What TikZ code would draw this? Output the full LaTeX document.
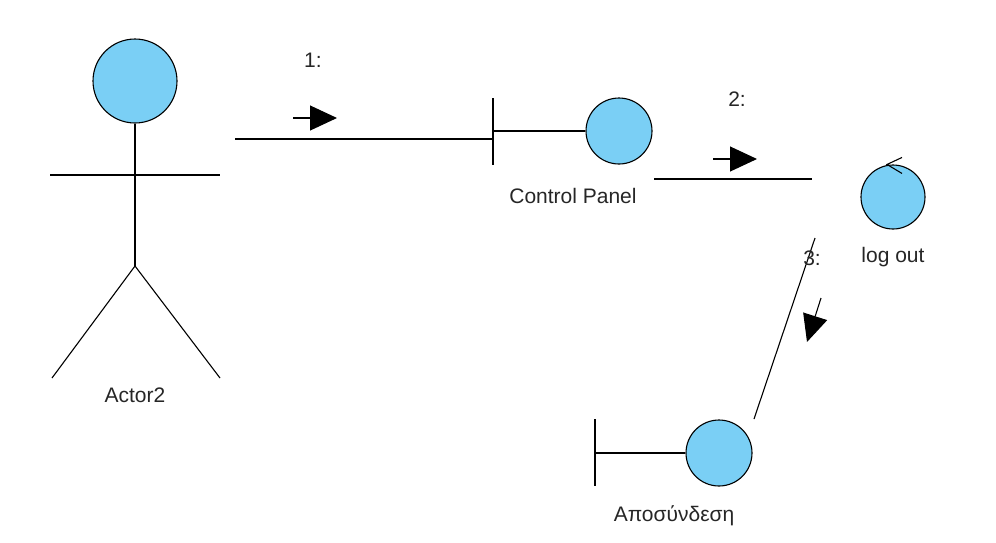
\documentclass[tikz,border=0pt]{standalone}
\usepackage{fontspec}
\setmainfont{Liberation Sans}
\usetikzlibrary{arrows.meta}
\definecolor{objblue}{RGB}{122,207,245}
\tikzset{
  obj/.style={circle,draw,fill=objblue,line width=1.1pt,inner sep=0pt,minimum size=#1},
  lbl/.style={anchor=base,font=\fontsize{21}{25}\selectfont,text=black!85},
  link/.style={line width=1.1pt},
  msg/.style={line width=1.1pt,-{Triangle[length=27pt,width=25pt]}}
}

\begin{document}
\begin{tikzpicture}[x=1pt,y=-1pt]
  \useasboundingbox (0,0) rectangle (996,542);
  % actor
  \node[obj=84pt] (head) at (135,81) {};
  \coordinate (hip) at (135,266);
  \coordinate (lhand) at (50,175);
  \coordinate (rhand) at (220,175);
  \coordinate (lfoot) at (52,378);
  \coordinate (rfoot) at (220,378);
  \draw[link] (head.south) -- (hip);
  \draw[link] (lhand) -- (rhand);
  \draw[link] (lfoot) -- (hip) -- (rfoot);
  \node[lbl] (actorlbl) at (135,402) {Actor2};
  % boundary: Control Panel
  \node[obj=66pt] (cpanel) at (619,131) {};
  \coordinate (cpbar) at (493,131);
  \draw[link] (cpanel.west) -- (cpbar);
  \draw[link] ([yshift=33pt]cpbar) -- ([yshift=-34pt]cpbar);
  \node[lbl] (cplbl) at (573,203) {Control Panel};
  % control: log out
  \node[obj=64pt] (logout) at (893,197) {};
  \coordinate (lotip) at ([xshift=-6pt]logout.north);
  \draw[link] ([shift={(15,-7)}]lotip) -- (lotip) -- ([shift={(15,9)}]lotip);
  \node[lbl] (lolbl) at (893,262) {log out};
  % boundary: Αποσύνδεση
  \node[obj=66pt] (logoff) at (719,453) {};
  \coordinate (lfbar) at (595,453);
  \draw[link] (logoff.west) -- (lfbar);
  \draw[link] ([yshift=34pt]lfbar) -- ([yshift=-33pt]lfbar);
  \node[lbl] (lflbl) at (674,521) {Αποσύνδεση};
  % links
  \coordinate (l1a) at (235,139);
  \coordinate (l1b) at (493,139);
  \coordinate (l2a) at (654,179);
  \coordinate (l2b) at (812,179);
  \coordinate (l3a) at (815,238);
  \coordinate (l3b) at (754,419);
  \draw[link] (l1a) -- (l1b);
  \draw[link] (l2a) -- (l2b);
  \draw[link] (l3a) -- (l3b);
  % messages
  \coordinate (m1a) at (293,118);
  \coordinate (m1b) at (337,118);
  \coordinate (m2a) at (713,159);
  \coordinate (m2b) at (757,159);
  \coordinate (m3a) at (821,298);
  \coordinate (m3b) at (807,342);
  \draw[msg] (m1a) -- (m1b);
  \draw[msg] (m2a) -- (m2b);
  \draw[msg] (m3a) -- (m3b);
  \node[lbl] (m1lbl) at (313,67) {1:};
  \node[lbl] (m2lbl) at (737,106) {2:};
  \node[lbl] (m3lbl) at (812,265) {3:};
\end{tikzpicture}
\end{document}
